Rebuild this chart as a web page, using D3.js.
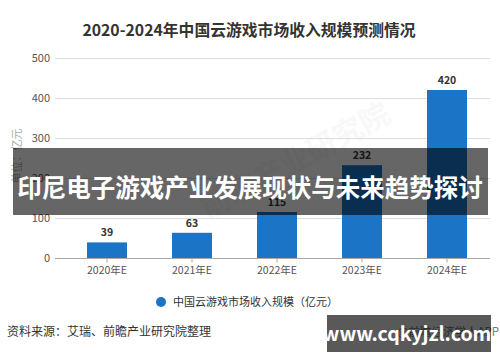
<!DOCTYPE html>
<html>
<head>
<meta charset="utf-8">
<script src="https://cdn.jsdelivr.net/npm/d3@7"></script>
<style>
  html, body { margin: 0; padding: 0; background: #fff; }
  svg { display: block; font-family: "Noto Sans CJK SC", "Noto Sans", sans-serif; }
</style>
</head>
<body>
<svg id="chart" width="500" height="362"></svg>
<script>
// 2020–2024 China cloud gaming revenue forecast, bars + overlay banners
const years = ["2020年E", "2021年E", "2022年E", "2023年E", "2024年E"];
const revenue = [39, 63, 115, 232, 420];
const yTicks = [0, 100, 200, 300, 400, 500];

const BAR_COLOR = "#1b74c5";

const svg = d3.select("#chart");

// plot area
const x = d3.scaleBand().domain(years).range([64.5, 489.5]).paddingInner(0.53).paddingOuter(0.265);
const y = d3.scaleLinear().domain([0, 500]).range([258, 58]);

// title
svg.append("text")
  .attr("x", 249).attr("y", 36)
  .attr("text-anchor", "middle")
  .attr("font-size", 15.8).attr("font-weight", "bold")
  .attr("fill", "#333")
  .text("2020-2024年中国云游戏市场收入规模预测情况");

// faint watermark
svg.append("text")
  .attr("transform", "translate(300,170) rotate(-28)")
  .attr("text-anchor", "middle")
  .attr("font-size", 30).attr("font-weight", "bold")
  .attr("fill", "#000").attr("opacity", 0.025)
  .text("前瞻产业研究院");

// gridlines
svg.append("g")
  .selectAll("line")
  .data(yTicks.slice(1))
  .join("line")
  .attr("x1", 55).attr("x2", 490)
  .attr("y1", d => y(d) + 0.5).attr("y2", d => y(d) + 0.5)
  .attr("stroke", "#ddd");

// y tick labels
svg.append("g")
  .selectAll("text")
  .data(yTicks)
  .join("text")
  .attr("x", 50).attr("y", d => y(d) + 4)
  .attr("text-anchor", "end")
  .attr("font-size", 11).attr("fill", "#555")
  .text(d => d);

// y axis title
svg.append("text")
  .attr("transform", "translate(21,156) rotate(-90)")
  .attr("text-anchor", "middle")
  .attr("font-size", 11).attr("fill", "#aaa")
  .text("单位：亿元");

// bars
svg.append("g")
  .selectAll("rect")
  .data(revenue)
  .join("rect")
  .attr("x", (d, i) => x(years[i]))
  .attr("y", d => y(d))
  .attr("width", x.bandwidth())
  .attr("height", d => y(0) - y(d))
  .attr("fill", BAR_COLOR);

// value labels
svg.append("g")
  .selectAll("text")
  .data(revenue)
  .join("text")
  .attr("x", (d, i) => x(years[i]) + x.bandwidth() / 2)
  .attr("y", d => y(d) - 6)
  .attr("text-anchor", "middle")
  .attr("font-size", 10.5).attr("font-weight", "bold")
  .attr("fill", "#333")
  .text(d => d);

// x axis
const xAxis = svg.append("g").attr("transform", "translate(0,258.5)");
xAxis.append("line").attr("x1", 55).attr("x2", 490).attr("stroke", "#aaa");
xAxis.selectAll("line.tick")
  .data(years)
  .join("line")
  .attr("class", "tick")
  .attr("x1", d => x(d) + x.bandwidth() / 2).attr("x2", d => x(d) + x.bandwidth() / 2)
  .attr("y1", 0).attr("y2", 4)
  .attr("stroke", "#aaa");
xAxis.selectAll("text")
  .data(years)
  .join("text")
  .attr("x", d => x(d) + x.bandwidth() / 2)
  .attr("y", 15.5)
  .attr("text-anchor", "middle")
  .attr("font-size", 10.5).attr("fill", "#555")
  .text(d => d);

// legend
svg.append("circle").attr("cx", 161).attr("cy", 302).attr("r", 5).attr("fill", BAR_COLOR);
svg.append("text")
  .attr("x", 173).attr("y", 306)
  .attr("font-size", 11).attr("fill", "#333")
  .text("中国云游戏市场收入规模（亿元）");

// source line
svg.append("text")
  .attr("x", 7).attr("y", 336)
  .attr("font-size", 12).attr("fill", "#333")
  .text("资料来源：艾瑞、前瞻产业研究院整理");
svg.append("text")
  .attr("x", 499).attr("y", 336)
  .attr("text-anchor", "end")
  .attr("font-size", 11.5).attr("fill", "#777")
  .text("@前瞻经济学人APP");

// overlay banner
svg.append("rect")
  .attr("x", 13).attr("y", 148).attr("width", 475).attr("height", 67)
  .attr("fill", "#000").attr("opacity", 0.6);
svg.append("text")
  .attr("x", 250).attr("y", 197)
  .attr("text-anchor", "middle")
  .attr("font-size", 24.5).attr("font-weight", "bold")
  .attr("fill", "#fff")
  .text("印尼电子游戏产业发展现状与未来趋势探讨");

// site banner bottom right
svg.append("rect")
  .attr("x", 327).attr("y", 315).attr("width", 164).attr("height", 37)
  .attr("fill", "#000").attr("opacity", 0.65);
svg.append("text")
  .attr("x", 407).attr("y", 341)
  .attr("text-anchor", "middle")
  .attr("font-size", 19.5).attr("font-weight", "bold")
  .attr("fill", "#fff")
  .text("www.cqkyjzl.com");
</script>
</body>
</html>
